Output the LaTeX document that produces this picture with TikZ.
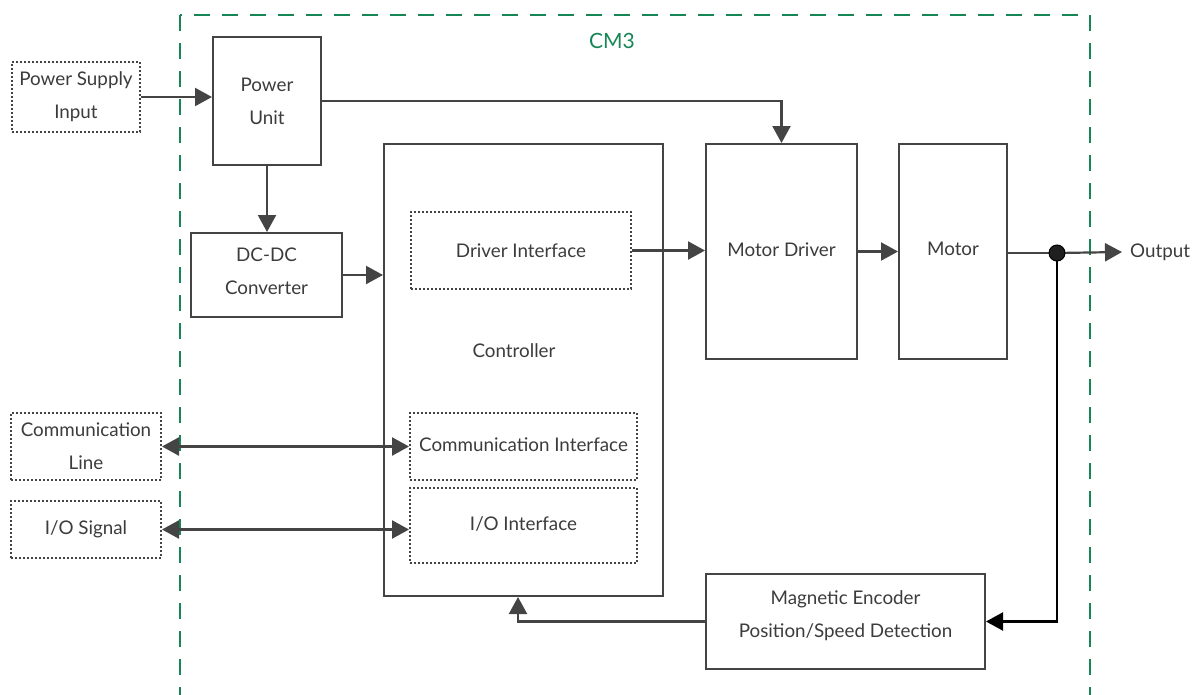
\documentclass[tikz,border=0pt]{standalone}
\usepackage{fontspec}
\setmainfont{Lato}
\usetikzlibrary{arrows.meta}
\definecolor{lnc}{HTML}{444444}
\definecolor{txc}{HTML}{3C3C3C}
\definecolor{grn}{RGB}{22,134,86}
\tikzset{
  blk/.style={draw=lnc,line width=2pt,fill=white,rectangle,inner sep=0pt,text=txc,align=center,font=\fontsize{18.8}{33}\selectfont},
  dotbox/.style={blk,dash pattern=on 2pt off 2pt},
  conn/.style={draw=lnc,line width=2.2pt,-{Triangle[length=17pt,width=18pt]}},
  dconn/.style={draw=lnc,line width=2.4pt,{Triangle[length=17pt,width=18pt]}-{Triangle[length=17pt,width=18pt]}},
  lbl/.style={text=txc,font=\fontsize{18.8}{33}\selectfont,inner sep=0pt}
}
\begin{document}
\begin{tikzpicture}[x=1pt,y=-1pt]
\useasboundingbox (0,0) rectangle (1200,694);
\clip (0,0) rectangle (1200,694);
% frame
\draw[grn,line width=2pt,dash pattern=on 16pt off 12pt] (180,15) rectangle (1090,730);
\node[text=grn,font=\fontsize{21}{24}\selectfont,inner sep=0pt] (cm) at (612,41) {CM3};
% boxes
\node[dotbox,minimum width=128pt,minimum height=70pt] (psi) at (76,97) {Power Supply\\Input};
\node[blk,minimum width=108pt,minimum height=128pt] (pu) at (267,101) {Power\\Unit};
\node[blk,minimum width=151pt,minimum height=84pt] (dc) at (266.5,275) {};
\node[lbl,align=center] (dctxt) at (266.5,271) {DC-DC\\Converter};
\node[blk,minimum width=279pt,minimum height=452pt] (ctrl) at (523.5,370) {};
\node[lbl] (ctrllbl) at (514,351) {Controller};
\node[dotbox,minimum width=220pt,minimum height=77pt] (di) at (521,250.5) {Driver Interface};
\node[dotbox,minimum width=227pt,minimum height=67pt] (ci) at (523.5,446.5) {\raisebox{4.5pt}{Communication Interface}};
\node[dotbox,minimum width=227pt,minimum height=75pt] (io) at (523.5,525.5) {\raisebox{3.5pt}{I/O Interface}};
\node[blk,minimum width=151pt,minimum height=215pt] (md) at (781.5,251.5) {\raisebox{4.5pt}{Motor Driver}};
\node[blk,minimum width=108pt,minimum height=215pt] (mo) at (953,251.5) {\raisebox{4.5pt}{Motor}};
\node[blk,minimum width=279pt,minimum height=95pt] (enc) at (845.5,621.5) {};
\node[lbl,align=center] (enctxt) at (845.5,615.5) {Magnetic Encoder\\Position/Speed Detection};
\node[dotbox,minimum width=150pt,minimum height=67pt] (cl) at (86,446.5) {Communication\\Line};
\node[dotbox,minimum width=150pt,minimum height=57pt] (ios) at (86,529.5) {I/O Signal};
\node[lbl,anchor=west] (out) at (1130,252) {Output};
\coordinate (j) at (1057,253);
% connectors
\draw[conn] (psi.east) -- (psi.east -| pu.west);
\draw[conn] (pu.south) -- (pu.south |- dc.north);
\draw[conn] (dc.east) -- (dc.east -| ctrl.west);
\draw[conn] (pu.east) -| (md.north);
\draw[conn] (di.east) -- (di.east -| md.west);
\draw[conn] (md.east) -- (md.east -| mo.west);
\draw[draw=lnc,line width=2.2pt] (mo.east |- j) -- (j);
\draw[conn] (j) -- ([xshift=-8pt]out.west);
\draw[black,line width=2.2pt,-{Triangle[length=17pt,width=18pt]}] (j) |- (enc.east);
\draw[conn] (enc.west) -| ([xshift=-5.5pt]ctrl.south);
\draw[dconn] (cl.east) -- (ci.west);
\draw[dconn] (ios.east) -- (ios.east -| io.west);
\fill[fill=black!88,draw=black,line width=1pt] (j) circle (8pt);
\end{tikzpicture}
\end{document}
